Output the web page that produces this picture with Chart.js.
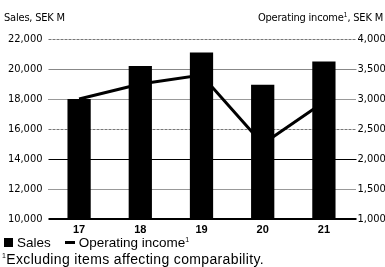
<!DOCTYPE html>
<html>
<head>
<meta charset="utf-8">
<script src="https://cdn.jsdelivr.net/npm/chart.js@4/dist/chart.umd.min.js"></script>
<style>
  html, body { margin: 0; padding: 0; background: #fff; }
  #wrap { position: relative; width: 385px; height: 267px; overflow: hidden; }
  .txt { position: absolute; color: #000; white-space: nowrap; line-height: 12px; }
  .narrow { font-family: "DejaVu Sans Condensed", "Liberation Sans Narrow", sans-serif; font-size: 11px; letter-spacing: -0.2px; }
  .reg { font-family: "Liberation Sans", Arial, sans-serif; font-size: 13.5px; line-height: 14px; }
  sup { font-size: 7px; vertical-align: top; line-height: 7px; }
  .sq { display: inline-block; width: 9px; height: 9px; background: #000; margin-right: 4px; }
  .ln { display: inline-block; width: 10px; height: 3px; background: #000; vertical-align: 3px; margin-right: 4px; }
</style>
</head>
<body>
<div id="wrap">
  <canvas id="chart" width="385" height="267"></canvas>
  <div class="txt narrow" style="left:4px; top:12px;">Sales, SEK M</div>
  <div class="txt narrow" style="right:2px; top:12px;">Operating income<sup>1</sup>, SEK M</div>
  <div class="txt reg" style="left:4px; top:236px;"><span class="sq"></span>Sales<span style="display:inline-block;width:14px"></span><span class="ln"></span>Operating income<sup>1</sup></div>
  <div class="txt reg" style="left:2px; top:252px; font-size:14px; letter-spacing:0.35px;"><sup>1</sup>Excluding items affecting comparability.</div>
</div>
<script>
  // Data
  const years = ['17', '18', '19', '20', '21'];
  const sales = [18000, 20200, 21100, 18950, 20500];
  const operatingIncome = [3000, 3250, 3400, 2250, 2950];

  // Gridline look per tick, from bottom (10,000) to top (22,000)
  const gridStyles = [
    { color: '#000', width: 2, dash: [] },
    { color: '#333', width: 1, dash: [1, 1] },
    { color: '#000', width: 1, dash: [] },
    { color: '#777', width: 1, dash: [3, 1] },
    { color: '#333', width: 1, dash: [1, 1] },
    { color: '#888', width: 1, dash: [] },
    { color: '#777', width: 1, dash: [3, 1] }
  ];

  const tickFont = { family: '"DejaVu Sans Condensed", "Liberation Sans Narrow", sans-serif', size: 11 };

  // Draws the horizontal gridlines using the left scale's ticks
  const gridPlugin = {
    id: 'gridPlugin',
    beforeDatasetsDraw(chart) {
      const ctx = chart.ctx;
      const yScale = chart.scales.y;
      const area = chart.chartArea;
      ctx.save();
      yScale.ticks.forEach((tick, i) => {
        const st = gridStyles[i] || gridStyles[1];
        const y = Math.round(yScale.getPixelForValue(tick.value)) + (st.width % 2 ? 0.5 : 0);
        ctx.beginPath();
        ctx.strokeStyle = st.color;
        ctx.lineWidth = st.width;
        ctx.setLineDash(st.dash);
        ctx.moveTo(area.left, y);
        ctx.lineTo(area.right + 2, y);
        ctx.stroke();
      });
      ctx.restore();
    }
  };

  new Chart(document.getElementById('chart'), {
    data: {
      labels: years,
      datasets: [
        {
          type: 'line',
          label: 'Operating income',
          data: operatingIncome,
          yAxisID: 'y1',
          borderColor: '#000',
          borderWidth: 3,
          pointRadius: 0,
          tension: 0,
          order: 1
        },
        {
          type: 'bar',
          label: 'Sales',
          data: sales,
          yAxisID: 'y',
          backgroundColor: '#000',
          barPercentage: 0.38,
          categoryPercentage: 1.0,
          order: 2
        }
      ]
    },
    options: {
      responsive: false,
      devicePixelRatio: 1,
      animation: false,
      layout: { padding: { top: 39, left: 0, right: 0, bottom: 0 } },
      plugins: { legend: { display: false }, tooltip: { enabled: false } },
      scales: {
        x: {
          grid: { display: false, drawTicks: false },
          border: { display: false },
          ticks: {
            color: '#000',
            padding: 4,
            font: { family: '"Liberation Sans", Arial, sans-serif', size: 11, weight: 'bold' }
          },
          afterFit(scale) { scale.height = 48; }
        },
        y: {
          position: 'left',
          min: 10000,
          max: 22000,
          grid: { display: false, drawTicks: false },
          border: { display: false },
          ticks: {
            stepSize: 2000,
            color: '#000',
            padding: 6,
            font: tickFont,
            callback: (v) => v.toLocaleString('en-US')
          },
          afterFit(scale) { scale.width = 48.5; }
        },
        y1: {
          position: 'right',
          min: 1000,
          max: 4000,
          grid: { display: false, drawTicks: false },
          border: { display: false },
          ticks: {
            stepSize: 500,
            color: '#000',
            padding: 3,
            font: tickFont,
            callback: (v) => v.toLocaleString('en-US')
          },
          afterFit(scale) { scale.width = 30.5; }
        }
      }
    },
    plugins: [gridPlugin]
  });
</script>
</body>
</html>
